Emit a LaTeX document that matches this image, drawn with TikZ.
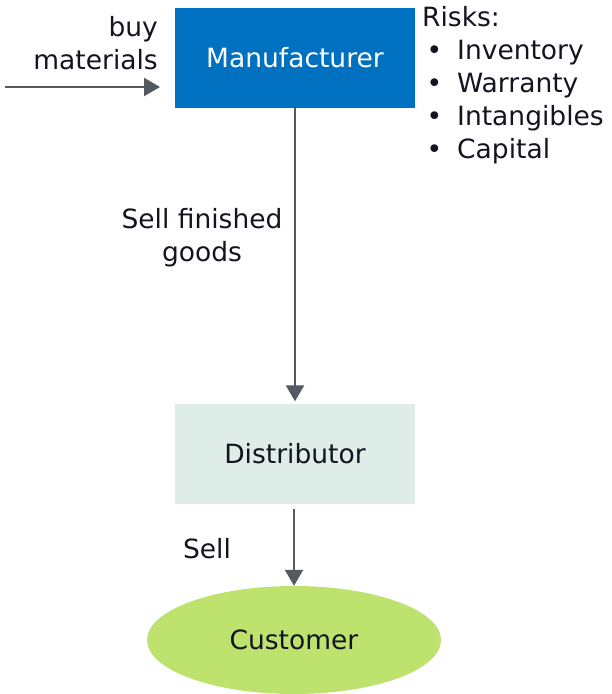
\documentclass[tikz,border=0pt]{standalone}
\usepackage{fontspec}
\setmainfont{DejaVu Sans}
\usetikzlibrary{arrows.meta,shapes.geometric}
\definecolor{manublue}{RGB}{0,112,192}
\definecolor{distgreen}{RGB}{222,237,232}
\definecolor{custgreen}{RGB}{190,226,110}
\definecolor{arrowgray}{RGB}{85,90,96}
\definecolor{textdark}{RGB}{20,20,32}

\begin{document}
\begin{tikzpicture}[x=1pt, y=-1pt, font=\fontsize{26.5}{33}\selectfont, text=textdark,
        boxnode/.style={shape=rectangle, minimum width=240pt, minimum height=100pt, inner sep=0pt},
        ovalnode/.style={shape=ellipse, minimum width=294pt, minimum height=108pt, inner sep=0pt},
        labelnode/.style={inner sep=0pt},
        flowarrow/.style={draw=arrowgray, line width=2.4pt, -{Triangle[length=16pt,width=18pt]}}]
        \useasboundingbox (0,0) rectangle (611,694);
        % Boxes
        \node[boxnode, fill=manublue, text=white] (manufacturer) at (295,58) {Manufacturer};
        \node[boxnode, fill=distgreen] (distributor) at (295,453.5) {Distributor};
        \node[ovalnode, fill=custgreen] (customer) at (294,640) {Customer};
        % Arrows
        \coordinate (matsource) at (5,87);
        \coordinate (matend) at (160,87);
        \draw[flowarrow] (matsource) -- (matend);
        \draw[flowarrow, shorten >=2pt] (manufacturer.south) -- (distributor.north);
        \draw[flowarrow, shorten <=5pt] (distributor.south -| customer.north) -- (customer.north);
        % Labels
        \node[labelnode, align=right, anchor=east] (buylabel) at (158,43) {buy\\materials};
        \node[labelnode, align=center] (selllabel) at (202,238) {Sell finished\\goods};
        \node[labelnode] (sellshort) at (207,549) {Sell};
        \node[labelnode, align=left, anchor=north west] (risks) at (422,6) {Risks:\\
          \makebox[35pt][l]{\,\textbullet}Inventory\\
          \makebox[35pt][l]{\,\textbullet}Warranty\\
          \makebox[35pt][l]{\,\textbullet}Intangibles\\
          \makebox[35pt][l]{\,\textbullet}Capital};
\end{tikzpicture}
\end{document}
